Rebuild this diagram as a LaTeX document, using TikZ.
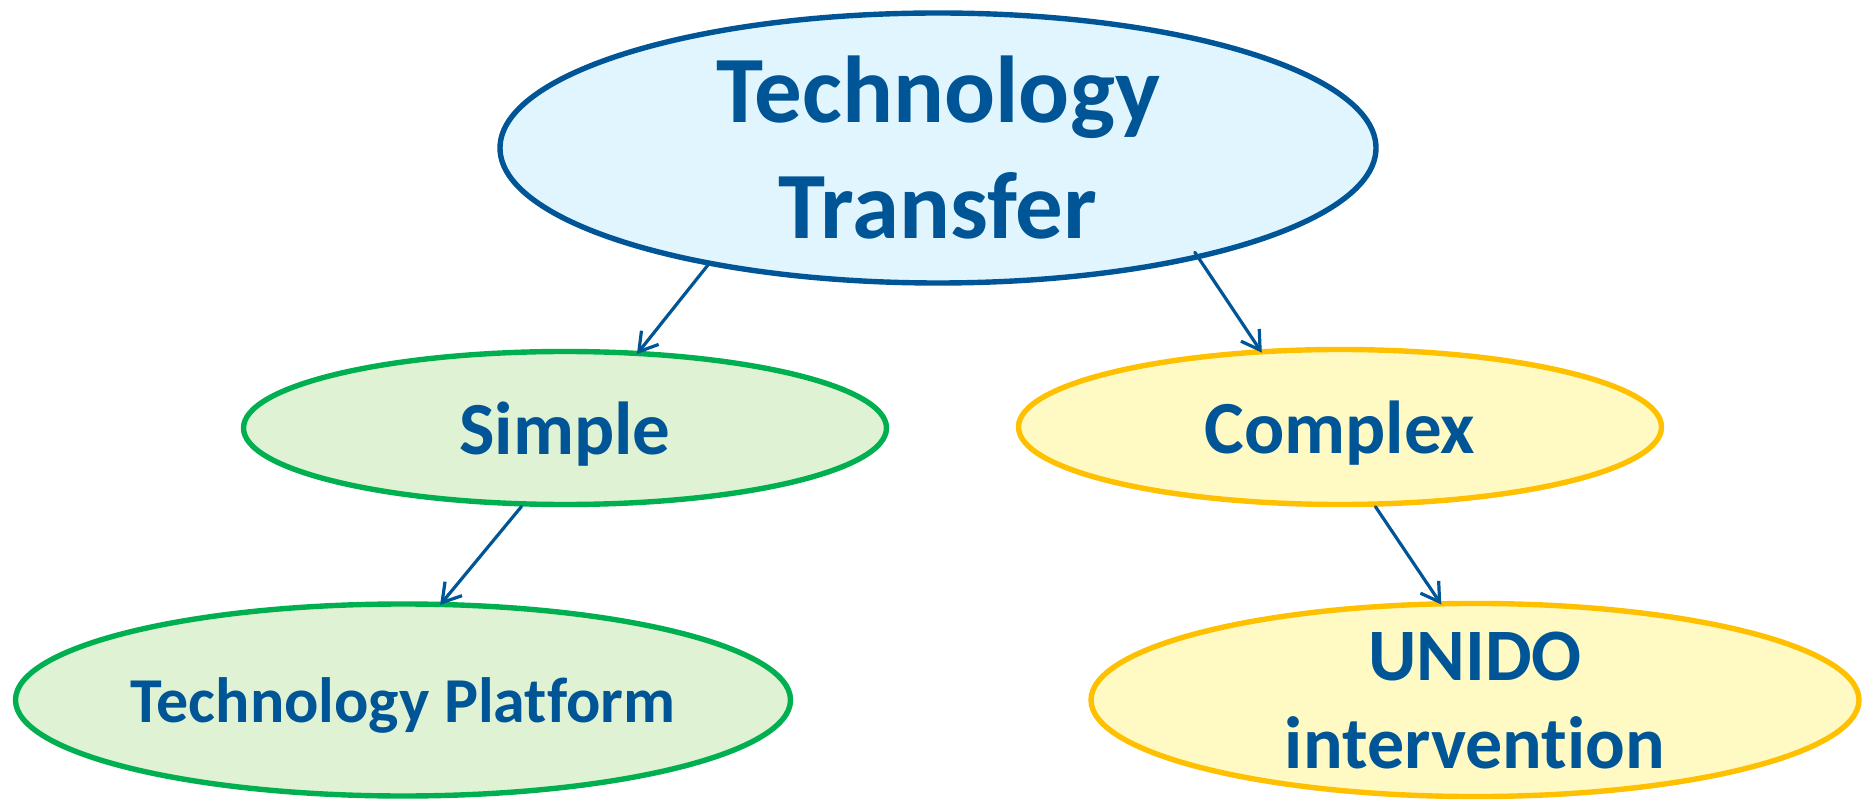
\documentclass[tikz,border=0pt]{standalone}
\usepackage{fontspec}
\setmainfont{Carlito}[Ligatures=NoCommon]
\usetikzlibrary{shapes.geometric,arrows.meta,positioning}
\definecolor{txtblue}{RGB}{0,85,150}
\definecolor{topline}{RGB}{0,85,150}
\definecolor{topfill}{RGB}{224,245,253}
\definecolor{grline}{RGB}{0,176,80}
\definecolor{grfill}{RGB}{224,242,212}
\definecolor{yeline}{RGB}{255,192,0}
\definecolor{yefill}{RGB}{255,250,196}
\begin{document}
\begin{tikzpicture}[x=0.5pt,y=-0.5pt,line join=round,line cap=round,
  oval/.style={ellipse,inner sep=0pt,line width=2.7pt,text=txtblue,align=center,font=\bfseries},
  blueoval/.style={oval,draw=topline,fill=topfill},
  greenoval/.style={oval,draw=grline,fill=grfill},
  yellowoval/.style={oval,draw=yeline,fill=yefill},
  link/.style={draw=txtblue,line width=1.6pt,shorten >=-2pt,-{Straight Barb[length=9pt,width=11pt,line width=1.6pt]}}]
\useasboundingbox (0,0) rectangle (1862,801);
\node[blueoval,minimum width=438pt,minimum height=135pt,font=\bfseries\fontsize{47.5}{58}\selectfont] (tt) at (938,148) {Technology\\Transfer};
\node[greenoval,minimum width=321.5pt,minimum height=76.5pt,text depth=0pt,font=\bfseries\fontsize{37.5}{44}\selectfont] (simple) at (565,428) {Simple};
\node[yellowoval,minimum width=321.5pt,minimum height=77.5pt,text depth=0pt,font=\bfseries\fontsize{37.5}{44}\selectfont] (complex) at (1340,427) {Complex};
\node[greenoval,minimum width=387.5pt,minimum height=96pt,text depth=0pt,font=\bfseries\fontsize{32}{38}\selectfont] (platform) at (403,700) {Technology Platform};
\node[yellowoval,minimum width=384pt,minimum height=96pt,text depth=-7pt,font=\bfseries\fontsize{37}{44}\selectfont] (unido) at (1475,700) {UNIDO\\intervention};
% arrows between the ovals
\draw[link] (tt.207) -- (simple.46);
\draw[link,shorten <=-4pt] (tt.-23) -- (complex.136);
\draw[link] (simple.241) -- (platform.68);
\draw[link] (complex.-66) -- (unido.110);
\end{tikzpicture}
\end{document}
